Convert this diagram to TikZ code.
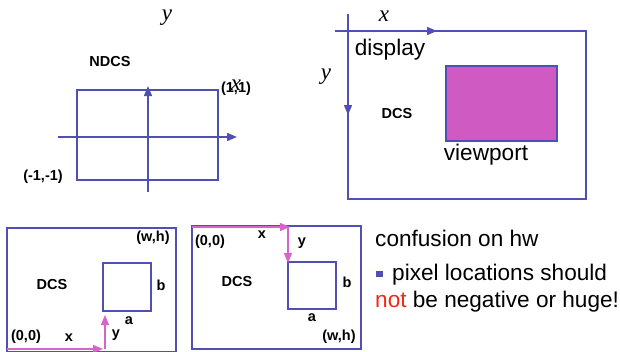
\documentclass[tikz,border=0pt]{standalone}
\usepackage{fontspec}
\setmainfont{Liberation Sans}
\newfontfamily\serifit{Liberation Serif}
\usetikzlibrary{arrows.meta}
\definecolor{frameblue}{RGB}{80,80,180}
\definecolor{vpfill}{RGB}{206,90,194}
\definecolor{arrmag}{RGB}{214,100,204}
\definecolor{notred}{RGB}{240,40,20}
\tikzset{
  frame/.style={draw=frameblue, line width=1.2pt},
  axis/.style={draw=frameblue, line width=1.4pt, -{Triangle[length=10pt,width=8pt]}},
  maxis/.style={draw=arrmag, line width=1.4pt, -{Triangle[length=10pt,width=8pt]}},
  lbl/.style={font=\fontsize{14.5}{16}\selectfont\bfseries, inner sep=0pt},
  big/.style={font=\fontsize{22.6}{26}\selectfont, inner sep=0pt},
  ital/.style={font=\fontsize{23}{26}\selectfont\serifit\itshape, inner sep=0pt},
}
\begin{document}
\begin{tikzpicture}[x=1pt,y=-1pt]
\useasboundingbox (0,0) rectangle (620,351);
% ---------- NDCS ----------
\draw[frame] (77,90) rectangle (218,180);
\coordinate (nxs) at (58,137); \coordinate (nxe) at (237,137);
\coordinate (nys) at (148,192); \coordinate (nye) at (148,86);
\draw[axis] (nxs) -- (nxe);
\draw[axis] (nys) -- (nye);
\node[ital] (ny) at (167,18) {y};
\node[lbl] (ndcs) at (110,62) {NDCS};
\node[lbl] (p11) at (236,89) {(1,1)};
\node[ital] (nx) at (236,85) {x};
\node[lbl] (pm11) at (43,177) {(-1,-1)};
% ---------- display ----------
\draw[frame] (348,31) -| (586,199) -| (348,31);
\coordinate (dxs) at (335,31); \coordinate (dxe) at (437,31);
\coordinate (dys) at (348,14); \coordinate (dye) at (348,115);
\draw[axis] (dxs) -- (dxe);
\draw[axis] (dys) -- (dye);
\node[ital] (dx) at (384,16) {x};
\node[ital] (dy) at (326,77) {y};
\node[big] (disp) at (390,50) {display};
\node[lbl] (dcs1) at (397,114) {DCS};
\draw[frame, fill=vpfill] (446,66) rectangle (557,141);
\node[big] (vp) at (486,155) {viewport};
% ---------- bottom left ----------
\draw[frame] (7,228) rectangle (176,352);
\draw[frame] (103,263) rectangle (151,311);
\coordinate (o1) at (7,349); \coordinate (o1x) at (103,349);
\coordinate (o1a) at (105,349); \coordinate (o1y) at (105,315);
\draw[maxis] (o1) -- (o1x);
\draw[maxis] (o1a) -- (o1y);
\node[lbl] (wh1) at (153,238) {(w,h)};
\node[lbl] (dcs2) at (52,285) {DCS};
\node[lbl] (b1) at (161,285) {b};
\node[lbl] (a1) at (129,321) {a};
\node[lbl] (z1) at (26,337) {(0,0)};
\node[lbl] (x1) at (69,338) {x};
\node[lbl] (y1) at (116,335) {y};
% ---------- bottom middle ----------
\draw[frame] (192,226) rectangle (361,349);
\draw[frame] (288,262) rectangle (336,309);
\coordinate (o2) at (192,227); \coordinate (o2x) at (290,227);
\coordinate (o2a) at (288,227); \coordinate (o2y) at (288,263);
\draw[maxis] (o2) -- (o2x);
\draw[maxis] (o2a) -- (o2y);
\node[lbl] (z2) at (210,242) {(0,0)};
\node[lbl] (x2) at (262,235) {x};
\node[lbl] (y2) at (302,243) {y};
\node[lbl] (dcs3) at (237,282) {DCS};
\node[lbl] (b2) at (347,282) {b};
\node[lbl] (a2) at (312,318) {a};
\node[lbl] (wh2) at (339,337) {(w,h)};
% ---------- text ----------
\node[big, anchor=base west] (t1) at (375,246) {confusion on hw};
\node[fill=frameblue, minimum size=6.5pt, inner sep=0pt] (bul) at (379.5,274) {};
\node[big, anchor=base west] (t2) at (392,280) {pixel locations should};
\node[big, anchor=base west] (t3) at (375,307) {\textcolor{notred}{not} be negative or huge!};
\end{tikzpicture}
\end{document}
